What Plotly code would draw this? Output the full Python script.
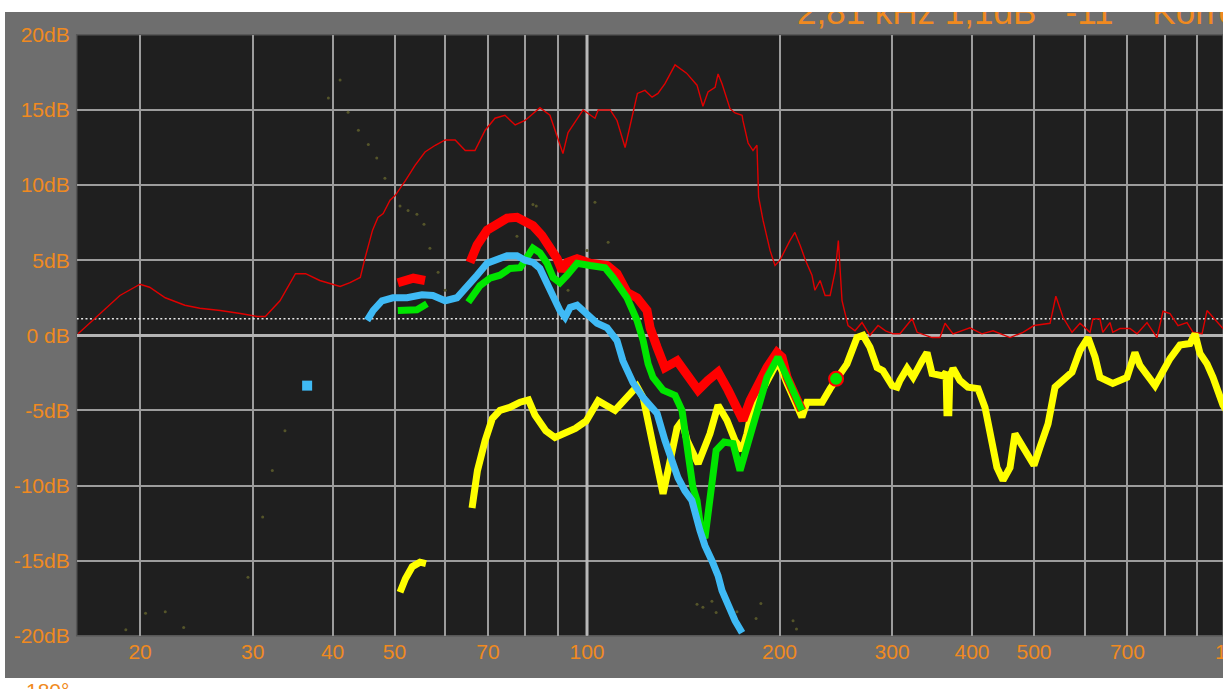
import math
import plotly.graph_objects as go

W, H = 1223, 689
ORANGE = "#f08a20"
FONT = "Liberation Sans, Arial, sans-serif"

# ---------------- data (frequency in Hz, level in dB) ----------------
# thin red: reference measurement
ref_freq = [16, 17.3, 18.6, 20, 20.7, 21.9, 23.5, 24.8, 26.7, 28.7,
            30.5, 31.4, 33.1, 35.0, 36.3, 38.2, 41.1, 42.6, 44.2, 45.0,
            46.2, 47.1, 48.0, 49.2, 50.1, 52.0, 53.8, 55.8, 57.9, 60,
            62.2, 64.5, 66.8, 69.3, 71.8, 74.4, 77.2, 80, 84.4, 87.5,
            91.7, 93.4, 98.6, 102.9, 104.1, 108.7, 111.4, 114.7, 118, 119.9,
            123.2, 126.4, 129.1, 132.4, 137.3, 141.3, 143.1, 148.6, 151.8, 154.6,
            158.6, 160.3, 162.6, 167.3, 170.4, 174.8, 175.3, 178.6, 181.8, 184.4,
            185.5, 188.5, 193.3, 196.8, 200.3, 207.6, 211.4, 215.4, 219.6, 224.8,
            227.2, 231.5, 235.7, 240, 244.5, 247.2, 250.5, 256, 262.5, 269.2,
            277, 285.2, 293, 301, 308.6, 322.4, 328.3, 346.4, 356.5, 363,
            373.6, 397, 414.6, 431.5, 458.7, 480.6, 500, 529.8, 541, 555,
            573.4, 590.2, 611.8, 618.4, 634, 640.6, 657.4, 664, 681.4, 706.4,
            724.8, 751.2, 778.6, 795.8, 816, 840, 867.6, 886.6, 915.8, 932.4,
            987.6, 1000]
ref_db = [0.1, 1.45, 2.65, 3.4, 3.2, 2.5, 2.0, 1.8, 1.65, 1.45,
          1.25, 1.25, 2.3, 4.1, 4.1, 3.65, 3.25, 3.5, 3.85, 5.2,
          7.0, 7.85, 8.1, 9.0, 9.3, 10.3, 11.3, 12.2, 12.65, 13.0,
          13.0, 12.3, 12.3, 13.65, 14.45, 14.65, 14.0, 14.3, 15.15, 14.65,
          12.1, 13.5, 15.0, 14.45, 15.0, 15.0, 14.3, 12.5, 14.85, 16.1,
          16.3, 15.85, 16.1, 16.75, 18.0, 17.65, 17.45, 16.65, 15.25, 16.2,
          16.5, 17.4, 16.75, 15.1, 14.8, 14.65, 14.3, 12.8, 12.3, 12.65,
          9.2, 7.65, 5.65, 4.65, 5.0, 6.3, 6.85, 6.0, 5.0, 4.0,
          3.0, 3.65, 2.65, 2.65, 4.3, 6.3, 2.3, 0.65, 0.3, 0.85,
          0.0, 0.65, 0.3, 0.1, 0.1, 1.1, 0.2, -0.15, -0.15, 0.8,
          0.1, 0.5, 0.1, 0.3, -0.15, 0.2, 0.65, 0.8, 2.6, 1.2,
          0.2, 0.8, 0.2, 1.1, 1.1, 0.2, 0.85, 0.2, 0.45, 0.45,
          0.1, 0.85, -0.15, 1.6, 1.45, 0.65, 0.85, 0.2, 0.1, 1.65,
          0.45, 0.5]

# yellow
yel_freq = [51.0, 52.0, 53.3, 54.8, 56.0, None,
            66.1, 67.4, 69.3, 71.1, 73.1, 75.7, 78.6, 81, 82.9, 86.2,
            89.1, 92.4, 95.9, 99.7, 104.1, 110.6, 116.8, 119.7, 122.4, 127.8,
            131.5, 134.9, 138.3, 140.8, 143.4, 149.2, 155.7, 160.3, 165.5, 170.4,
            174.8, 177.9, 181.8, 188.5, 195.4, 198.9, 205.5, 211.4, 216.8, 220.8,
            225.7, 233.2, 240, 246, 255, 264.4, 270.2, 277, 284.2, 290.2,
            300, 305.4, 308.6, 316.6, 323.6, 334.2, 340.2, 346.4, 360.4, 364.3,
            365.5, 368, 369.2, 373.6, 383, 394.2, 408.8, 419.2, 426.8, 437.6,
            447.2, 458.7, 467, 480.6, 500, 511, 526, 539.4, 555, 573.4,
            590.2, 607.4, 623, 634, 664, 698.8, 719.2, 732.2, 773.2, 816,
            845.8, 876.8, 892.8, 909, 932.4, 952.6, 987.6, 1000]
yel_db = [-17.1, -16.2, -15.4, -15.1, -15.2, None,
          -11.5, -9.0, -7.0, -5.55, -5.0, -4.8, -4.45, -4.3, -5.3, -6.35,
          -6.8, -6.5, -6.2, -5.7, -4.35, -5.0, -4.0, -3.4, -4.15, -7.9,
          -10.55, -8.35, -6.15, -5.7, -7.0, -8.55, -6.55, -4.65, -5.65, -7.0,
          -7.65, -6.55, -4.55, -3.55, -2.15, -1.7, -3.2, -4.55, -5.45, -4.45,
          -4.45, -4.45, -3.55, -2.8, -1.9, -0.15, 0.0, -0.8, -2.15, -2.35,
          -3.35, -3.45, -3.0, -2.2, -2.8, -1.7, -1.15, -2.55, -2.7, -2.45,
          -5.15, -5.15, -2.8, -2.2, -3.0, -3.45, -3.55, -4.8, -6.55, -8.8,
          -9.65, -8.8, -6.55, -7.45, -8.65, -7.45, -5.9, -3.45, -3.0, -2.45,
          -1.0, -0.15, -1.45, -2.8, -3.2, -2.8, -1.15, -2.0, -3.35, -1.55,
          -0.65, -0.55, 0.1, -1.2, -1.9, -2.8, -4.65, -5.0]

# thick red
red_freq = [50.6, 53.5, 55.8, None,
            65.6, 67.3, 69.8, 72.3, 75, 77.7, 80, 82.3, 85, 87.5,
            89.8, 91.4, 93.1, 96.5, 101.1, 107.5, 111.4, 115.5, 119.7, 124.1,
            125.5, 128.7, 132.4, 138.3, 143.4, 149.2, 154.6, 160.3, 166.2, 173.5,
            175.3, 179.9, 185.1, 191.2, 198.2, 201.8, 205.5, 213, 216.8]
red_db = [3.5, 3.8, 3.65, None,
          4.85, 6.0, 7.0, 7.45, 7.8, 7.85, 7.65, 7.3, 6.65, 5.85,
          5.1, 4.3, 4.85, 5.1, 4.8, 4.65, 4.1, 2.85, 2.5, 1.65,
          0.5, -0.8, -2.15, -1.7, -2.55, -3.65, -3.0, -2.45, -3.65, -5.45,
          -5.65, -4.35, -3.2, -2.15, -1.15, -1.45, -2.8, -4.35, -5.0]

# green
green_freq = [50.6, 52.9, 54.2, 56.2, None,
              65.2, 68, 70.5, 73.1, 75.8, 78.6, 80.6, 82.3, 84.4, 86.6,
              88.5, 90.7, 93.1, 96.5, 101.1, 106.7, 109.8, 115.5, 119.7, 122.4,
              124.6, 126.8, 131.5, 137.3, 140.8, 143.4, 146.4, 148.6, 150.8, 152.9,
              155.7, 159.2, 163.8, 169.2, 173.5, 177.9, 184.4, 191.2, 198.9, 205.5,
              213, 216.8]
green_db = [1.65, 1.65, 1.7, 2.1, None,
            2.2, 3.3, 3.8, 4.0, 4.45, 4.5, 5.2, 5.8, 5.5, 4.8,
            3.85, 3.5, 4.0, 4.8, 4.65, 4.5, 3.85, 2.5, 1.0, -0.35,
            -1.9, -2.8, -3.65, -4.0, -5.0, -7.45, -10.1, -11.0, -13.0, -13.5,
            -11.0, -7.65, -7.1, -7.2, -9.0, -7.45, -5.0, -2.8, -1.45, -2.8,
            -4.35, -5.0]

# blue
blue_freq = [45.3, 46.3, 47.8, 49.7, 52.3, 55.2, 57.4, 60, 62.6, 64.9,
             67.3, 69.8, 72.3, 75, 77.7, 80, 82.3, 84.4, 86.6, 88.5,
             90.7, 92.4, 94.1, 96.5, 100, 103.7, 107.5, 111.4, 113.8, 118,
             122.4, 128.7, 132.4, 135.8, 138.8, 142.3, 145.9, 150.2, 152.9, 156.8,
             160.3, 162.6, 166.2, 170.4, 174.8]
blue_db = [1.0, 1.65, 2.3, 2.5, 2.5, 2.7, 2.65, 2.3, 2.5, 3.2,
           4.0, 4.8, 5.0, 5.3, 5.3, 5.0, 4.85, 4.45, 3.45, 2.5,
           1.65, 1.2, 1.85, 2.0, 1.45, 0.8, 0.5, -0.35, -1.7, -3.15,
           -4.15, -5.2, -7.0, -8.55, -9.5, -10.35, -11.0, -13.0, -14.0, -15.0,
           -16.0, -17.0, -18.0, -19.0, -19.8]

# faint scattered points
dot_freq = [39.4, 41.1, 42.3, 43.9, 45.5, 46.9, 48.3, 51.0, 52.5, 54.2,
            55.6, 56.8, 58.5, 60, 77.7, 82.3, 83.3, 93.4, 100, 102.9,
            107.9, 19.0, 20.4, 21.9, 23.4, 29.5, 31.1, 32.2, 33.7, 148.6,
            151.8, 156.8, 159.2, 171.6, 183.8, 187, 210, 212.6]
dot_db = [15.8, 17.0, 14.85, 13.65, 12.7, 11.8, 10.45, 8.6, 8.3, 8.05,
          7.4, 5.8, 4.2, 3.0, 6.6, 8.7, 8.6, 3.0, 5.65, 8.85,
          6.2, -19.6, -18.5, -18.4, -19.45, -16.1, -12.1, -9.0, -6.35, -17.9,
          -18.1, -17.7, -18.45, -18.4, -18.85, -17.85, -19.0, -19.55]

blue_mark_freq, blue_mark_db = [36.5], [-3.35]
cursor_freq, cursor_db = [245.2], [-2.9]
ref_level_db = 1.1
readout = "2,81 kHz 1,1dB   -11    Korrektur"

x_ticks = [20, 30, 40, 50, 60, 70, 80, 90, 100, 200, 300, 400, 500, 600, 700, 800, 900, 1000]
x_labels = ["20", "30", "40", "50", "", "70", "", "", "100", "200", "300", "400", "500", "", "700", "", "", "1k"]
y_ticks = [-20, -15, -10, -5, 0, 5, 10, 15, 20]
y_labels = ["-20dB", "-15dB", "-10dB", "-5dB", "0 dB", "5dB", "10dB", "15dB", "20dB"]
f_min, f_max = 15.92, 987.6

# ---------------- figure ----------------
fig = go.Figure()

def line(x, y, color, width, **kw):
    fig.add_trace(go.Scatter(x=x, y=y, mode="lines", line=dict(color=color, width=width, **kw),
                             connectgaps=False, hoverinfo="skip", showlegend=False))

# emphasised 100 Hz grid line
line([100, 100], [-20, 20], "#b8b8b8", 3)
# dotted reference level
line([f_min, f_max], [ref_level_db] * 2, "#e6e6e6", 1.6, dash="2px,2.4px")

fig.add_trace(go.Scatter(x=dot_freq, y=dot_db, mode="markers",
                         marker=dict(color="#55552a", size=3), hoverinfo="skip", showlegend=False))

line(ref_freq, ref_db, "#e00000", 1.4)
line(yel_freq, yel_db, "#ffff00", 7)
line(red_freq, red_db, "#ff0000", 9)
line(green_freq, green_db, "#00e600", 7)
line(blue_freq, blue_db, "#3fbaf5", 7)

fig.add_trace(go.Scatter(x=blue_mark_freq, y=blue_mark_db, mode="markers",
                         marker=dict(symbol="square", color="#3fbaf5", size=10, line=dict(width=0)),
                         hoverinfo="skip", showlegend=False))
fig.add_trace(go.Scatter(x=cursor_freq, y=cursor_db, mode="markers",
                         marker=dict(symbol="circle", color="#00e600", size=14,
                                     line=dict(color="#ff0000", width=2)),
                         hoverinfo="skip", showlegend=False))

# readout text, clipped at the top edge by its own strip
fig.add_trace(go.Scatter(x=[797 / W], y=[0.913], mode="text", text=[readout.replace(" ", "\u00a0")],
                         textposition="middle right", xaxis="x2", yaxis="y2",
                         textfont=dict(size=35, color=ORANGE, family=FONT),
                         hoverinfo="skip", showlegend=False, cliponaxis=True))

axis_common = dict(showgrid=True, gridcolor="#9c9c9c", gridwidth=1.7, ticks="",
                   tickfont=dict(color=ORANGE, size=21, family=FONT),
                   showline=False, fixedrange=True)

x_dom = [76.7 / W, 1]
y_dom = [0.0634, 0.9657]
lf0, lf1 = math.log10(f_min), math.log10(f_max)
# paper position of the 1 kHz grid line (it lies just beyond the visible range)
k_paper = (math.log10(x_ticks[-1]) - lf0) / (lf1 - lf0)

fig.update_layout(
    width=W, height=H,
    margin=dict(l=0, r=0, t=0, b=0, pad=0),
    paper_bgcolor="#ffffff",
    plot_bgcolor="rgba(0,0,0,0)",
    showlegend=False,
    xaxis=dict(type="log", range=[lf0, lf1],
               domain=x_dom, tickvals=x_ticks, ticktext=x_labels, zeroline=False,
               ticklabelstandoff=1, **axis_common),
    yaxis=dict(range=[-20, 20], domain=y_dom, tickvals=y_ticks, ticktext=y_labels,
               zeroline=True, zerolinecolor="#b4b4b4", zerolinewidth=3,
               ticklabelstandoff=6, **axis_common),
    xaxis2=dict(domain=[0, 1], range=[0, 1], visible=False, fixedrange=True),
    yaxis2=dict(domain=[0.95, 1.0], range=[0, 1], visible=False, fixedrange=True),
    shapes=[
        dict(type="rect", xref="paper", yref="paper", x0=5 / W, x1=1, y0=0, y1=1,
             fillcolor="#6e6e6e", line=dict(width=0), layer="below"),
        dict(type="rect", xref="x domain", yref="y domain", x0=0, x1=1, y0=0, y1=1,
             fillcolor="#1f1f1f", line=dict(color="#575757", width=1.5), layer="below"),
    ],
    annotations=[
        dict(text="-180°", xref="paper", yref="paper", x=71 / W, y=0.001, xanchor="right",
             yanchor="top", showarrow=False, font=dict(color=ORANGE, size=21, family=FONT)),
        dict(text=x_labels[-1], xref="x domain", yref="y domain", x=k_paper, y=0,
             xanchor="center", yanchor="top", yshift=-2, showarrow=False,
             font=dict(color=ORANGE, size=21, family=FONT)),
    ],
)

post = ("document.documentElement.style.background="
        "'linear-gradient(#ffffff,#ffffff) no-repeat 0 0 / 100% 9px,"
        " linear-gradient(#ffffff,#ffffff) no-repeat 0 0 / 5px 3000px, #6e6e6e';"
        "document.body.style.margin='0';document.body.style.overflow='hidden';"
        "var d=document.getElementById('{plot_id}');d.style.position='absolute';"
        "d.style.left='0px';d.style.top='0px';")
fig.write_html("out.html", post_script=post, config={"displayModeBar": False})
